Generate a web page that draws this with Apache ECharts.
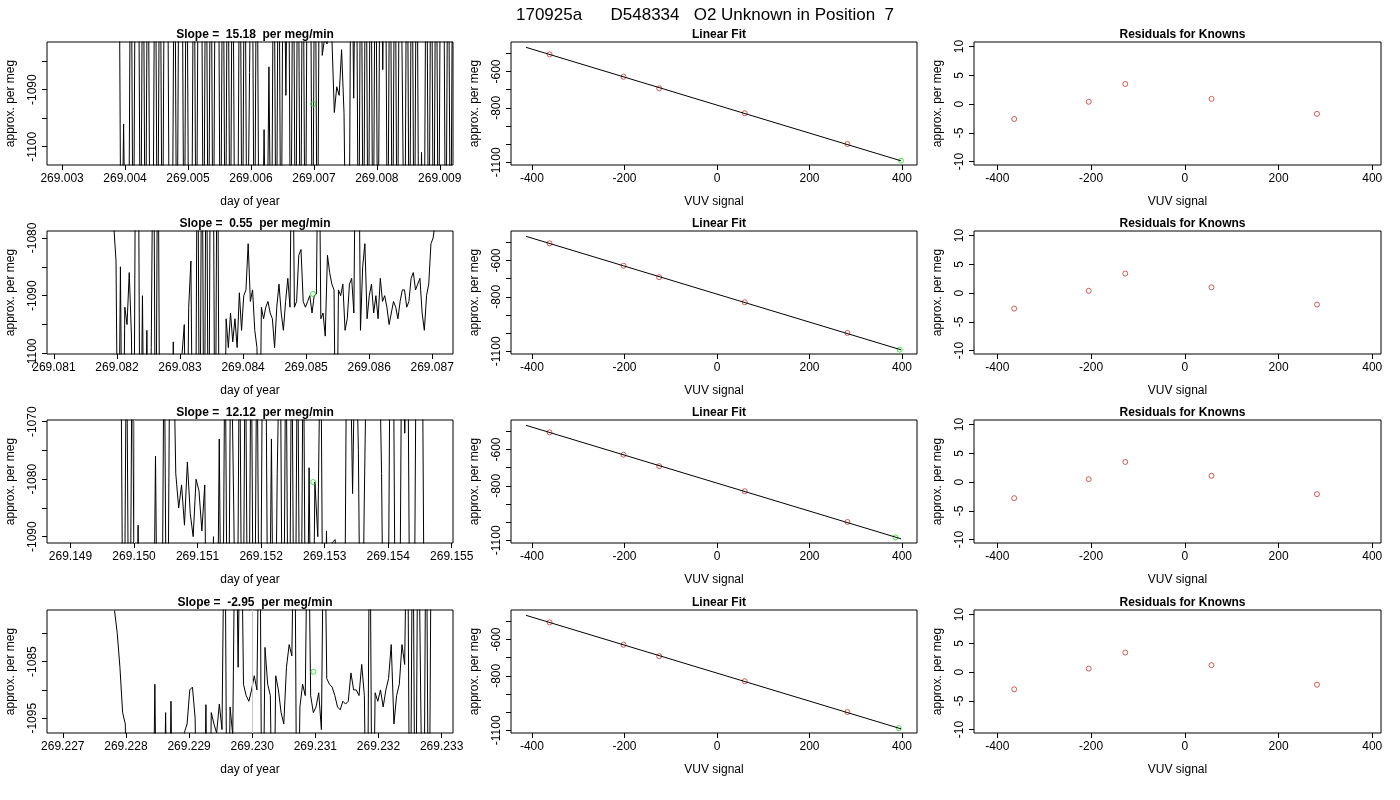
<!DOCTYPE html>
<html><head><meta charset="utf-8">
<script src="https://cdn.jsdelivr.net/npm/echarts@6/dist/echarts.min.js"></script>
<style>html,body{margin:0;padding:0;background:#fff}#c{width:1400px;height:800px}</style>
</head><body><div id="c"></div>
<script>
const mainTitle = "170925a      D548334   O2 Unknown in Position  7";
const slopeTitles = ["Slope =  15.18  per meg/min","Slope =  0.55  per meg/min","Slope =  12.12  per meg/min","Slope =  -2.95  per meg/min"];
const H = -1050, L = -1130;
const tsStart = [269.00390, 269.08195, 269.14979, 269.22782];
const tsEnd   = [269.00921, 269.08705, 269.15458, 269.23284];
const ts1 = [H,L,-1096,L,L, H,L,H,H,L, H,L,H,L,L, H,L,H,L,H, H,L,L,H,L, H,H,L,H,L, L,H,L,H,H, L,H,L,H,L, H,H,L,H,L, H,L,H,L,L, H,L,H,L,-1087, H,L,H,L,L,
 -1097,L,-1086,L,H, L,H,L,H,-1091, H,L,H,L,H, L,H,L,H,H, L,H,L,H,-1084, -1081,-1082,-1079,-1081,-1094, -1089.5,-1091,-1083,-1094,L, L,H,-1091.5,H,L, H,L,H,L,H, L,H,L,H,-1086.5, H,L,H,L,H, L,H,-1085,L,H, L,H,L,H,L, -1101,L,H,L,H, L,H,L,H,H, L,H,L,H];
const ts2 = [-1078,-1084,L,-1085,L,-1092,-1095,-1086,-1097,L,H,H,L,-1090,L,-1096,L,-1099,H,L,H,L,L,L,L,L,L,-1098,L,L,L,-1100,-1095,L,-1092,-1084,L,L,H,L,H,L,H,L,H,H,L,H,L,L,L,
 -1094,-1099,-1093,-1098,-1094,-1099,-1089.5,-1096,-1090,-1089,-1081,-1091,-1089,-1096,-1099,L,-1092,-1094,-1092,-1091,-1093,-1094,-1099,-1092,-1088,-1093,-1096,-1091,-1087,-1092,H,-1092,-1091,-1083,-1082,-1091,-1092,-1091,-1090,-1093,-1090,-1089.7,H,-1094,-1093,-1097,-1083,-1086,-1088,-1089,L,-1089,-1090,-1088,-1096,-1094,-1088,-1087,-1093,H,H,-1096,-1085,-1081,-1094,-1090,-1088,-1093,-1090,-1094,-1087,-1091,-1090,-1092,-1095,-1093,-1091,-1092,-1094,-1091,-1089,-1089,-1092,-1091,-1087,-1086,-1089,-1088,-1087,-1093,-1096,-1090,-1088,-1081,-1080,-1077];
const ts3 = [H,L,H,L,H,L,-1088,L,L,L,L,L,-1076,L,L,H,L,H,H,-1079,-1085,-1081,-1088,-1077,-1086,-1090,-1080,-1082,-1089,-1081,L,L,-1090,L,-1073,L,H,L,H,-1085,L,H,L,H,L,H,L,H,L,H,H,L,-1073,L,-1079,H,L,H,L,H,L,H,L,H,L,-1078,L,-1080.5,-1090,H,L,-1089,L,-1091,-1090.5,L,L,L,H,H,-1082.5,H,-1075,L,-1085,H,H,H,H,H,-1079,L,L,H,H,L,L,H,-1072,H,L,L,H,H,H,L];
const ts4 = [-1076,-1080,-1086,-1094,-1096,L,L,L,L,L,L,L,L,L,L,-1089,L,L,L,-1094,L,-1092,L,L,L,L,-1097.5,-1096,-1090,-1089.5,-1095,L,L,L,-1092.6,L,-1094,-1096,-1097.6,-1092.5,-1097,H,L,-1093,-1098,H,-1086,H,-1089,-1091,-1092,-1090,-1087.5,-1090,H,L,-1082.5,-1089,-1091,L,-1087.5,-1090,-1094,-1096,-1086,-1082,-1084,H,L,-1093,-1089,-1091,H,-1091,-1094,-1093,-1090.5,-1097,H,-1088,-1089,-1089.5,-1091,-1093,-1093.5,-1092,-1092.5,-1092,-1087,-1090,-1090,-1091,-1085.5,-1091,L,H,L,-1090.5,-1092,-1090,-1093,-1090,-1088,-1082,-1096,-1091,-1089,-1082,-1085.5,H,L,H,L,H,-1092.5,L,H,L,H];
const tsData = [ts1, ts2, ts3, ts4];
const greenT = [269.00699, 269.08511, 269.15282, 269.23097];
const greenV = [-1092.5, -1089.7, -1080.5, -1086.8];
const greyLines = [[], [269.08425, 269.08599], [269.15369], [269.23010]];
const leftXMin = [269.00276, 269.08089, 269.14863, 269.22675];
const leftXMax = [269.00921, 269.08733, 269.15502, 269.23318];
const leftYMin = [-1103.2, -1100.1, -1091.1, -1097.6];
const leftYMax = [-1081.65, -1078.8, -1069.7, -1075.9];
const leftXTicks = [[269.003,269.004,269.005,269.006,269.007,269.008,269.009],[269.081,269.082,269.083,269.084,269.085,269.086,269.087],[269.149,269.150,269.151,269.152,269.153,269.154,269.155],[269.227,269.228,269.229,269.230,269.231,269.232,269.233]];
const leftYTicks = [[-1085,-1090,-1095,-1100],[-1080,-1085,-1090,-1095,-1100],[-1070,-1075,-1080,-1085,-1090],[-1080,-1085,-1090,-1095]];
const leftYLabels = [[-1090,-1100],[-1080,-1090,-1100],[-1070,-1080,-1090],[-1085,-1095]];
const knownX = [-362, -202, -125, 60, 282];
const knownY = [[-506,-629,-693,-830,-999],[-506,-629,-692,-830,-999],[-506,-629,-692,-830,-999],[-506,-629,-692,-830,-999]];
const unkX = [398, 395, 386, 393];
const unkY = [-1091, -1091, -1084, -1088];
const fitX = [-413, 398];
const fitY = [-467, -1092];
const midYTicks = [-500,-600,-700,-800,-900,-1000,-1100];
const midYLabels = [-600,-800,-1100];
const midXTicks = [-400,-200,0,200,400];
const resX = [-364, -205, -127, 57, 282];
const resY = [[-2.6,0.4,3.5,0.9,-1.7],[-2.7,0.4,3.4,1.0,-2.0],[-2.8,0.5,3.5,1.1,-2.1],[-3.0,0.6,3.4,1.2,-2.2]];
const resYTicks = [-10,-5,0,5,10];

const tops = [42, 231, 420, 610];
const gh = 123;
const colLeft = [47, 511, 974];
const colW = [406, 406, 407];
const FONT = 'Liberation Sans';
const grids=[], xAxes=[], yAxes=[], series=[], titles=[];
titles.push({text: mainTitle, left: 700, top: 2, textAlign: 'center', textStyle:{fontFamily:FONT, fontSize:17, fontWeight:'normal', color:'#000'}});
function axisBase(){return {axisLine:{show:false, onZero:false}, splitLine:{show:false}, axisTick:{show:true,inside:false,length:5,lineStyle:{color:'#000'}}, axisLabel:{fontFamily:FONT,fontSize:12,color:'#000'}, nameTextStyle:{fontFamily:FONT,fontSize:12,color:'#000'}};}
function addPanel(r, c, title, xmin, xmax, xticks, xlabels, xfmt, xname, ymin, ymax, yticks, ylabels){
  const gi = grids.length;
  grids.push({left: colLeft[c], top: tops[r], width: colW[c], height: gh, show:true, borderColor:'#000', borderWidth:1, backgroundColor:'transparent'});
  const xa = axisBase();
  Object.assign(xa, {type:'value', gridIndex:gi, min:xmin, max:xmax, name:xname, nameLocation:'middle', nameGap:31, position:'bottom'});
  xa.axisTick.customValues = xticks;
  xa.axisLabel.customValues = xlabels; xa.axisLabel.formatter = xfmt; xa.axisLabel.margin = 8;
  xAxes.push(xa);
  const ya = axisBase();
  Object.assign(ya, {type:'value', gridIndex:gi, min:ymin, max:ymax, name:'approx. per meg', nameLocation:'middle', nameGap:30, nameRotate:90, position:'left'});
  ya.axisTick.customValues = yticks;
  ya.axisLabel.customValues = ylabels; ya.axisLabel.rotate = 90; ya.axisLabel.margin = 8;
  ya.axisLabel.formatter = v => String(Math.round(v));
  yAxes.push(ya);
  titles.push({text:title, left: colLeft[c] + colW[c]/2, top: tops[r]-18, textAlign:'center', textStyle:{fontFamily:FONT,fontSize:12,fontWeight:'bold',color:'#000'}});
  return gi;
}
const ptStyle = col => ({symbol:'circle', symbolSize:5, itemStyle:{color:'rgba(0,0,0,0)', borderColor:col, borderWidth:1}});
for (let r=0;r<4;r++){
  let gi = addPanel(r,0,slopeTitles[r],leftXMin[r],leftXMax[r],leftXTicks[r],leftXTicks[r],v=>v.toFixed(3),'day of year',leftYMin[r],leftYMax[r],leftYTicks[r],leftYLabels[r]);
  const vals = tsData[r], n = vals.length, st = (tsEnd[r]-tsStart[r])/(n-1);
  series.push({type:'line', xAxisIndex:gi, yAxisIndex:gi, showSymbol:false, clip:true, animation:false,
    data: vals.map((v,i)=>[tsStart[r]+i*st, v]), lineStyle:{color:'#000', width:1},
    markLine: greyLines[r].length ? {silent:true, symbol:'none', label:{show:false}, lineStyle:{color:'#c8c8c8', type:'solid', width:1}, data: greyLines[r].map(x=>({xAxis:x}))} : undefined});
  series.push(Object.assign({type:'scatter', xAxisIndex:gi, yAxisIndex:gi, data:[[greenT[r], greenV[r]]], animation:false, z:5}, ptStyle('#22dd22')));
  gi = addPanel(r,1,'Linear Fit',-445.3,432.4,midXTicks,midXTicks,v=>String(v),'VUV signal',-1114.9,-437.8,midYTicks,midYLabels);
  series.push({type:'line', xAxisIndex:gi, yAxisIndex:gi, showSymbol:false, animation:false, data: fitX.map((x,i)=>[x, fitY[i]]), lineStyle:{color:'#000', width:1}});
  series.push(Object.assign({type:'scatter', xAxisIndex:gi, yAxisIndex:gi, animation:false, data: knownX.map((x,i)=>[x, knownY[r][i]])}, ptStyle('#cc3333')));
  series.push(Object.assign({type:'scatter', xAxisIndex:gi, yAxisIndex:gi, animation:false, data: [[unkX[r], unkY[r]]]}, ptStyle('#22dd22')));
  gi = addPanel(r,2,'Residuals for Knowns',-449.8,418.6,midXTicks,midXTicks,v=>String(v),'VUV signal',-10.6,10.8,resYTicks,resYTicks);
  series.push(Object.assign({type:'scatter', xAxisIndex:gi, yAxisIndex:gi, animation:false, data: resX.map((x,i)=>[x, resY[r][i]])}, ptStyle('#cc3333')));
}
const chart = echarts.init(document.getElementById('c'));
chart.setOption({backgroundColor:'#fff', animation:false, title:titles, grid:grids, xAxis:xAxes, yAxis:yAxes, series:series});
</script></body></html>
